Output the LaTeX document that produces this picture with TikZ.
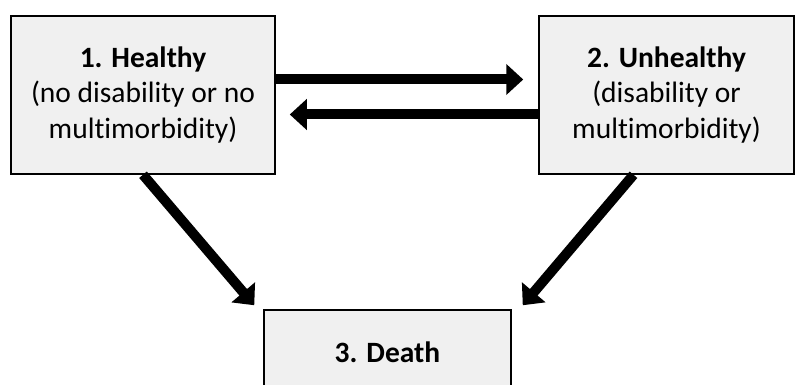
\documentclass[tikz,border=0pt]{standalone}
\usepackage{fontspec}
\setmainfont{Carlito}[Ligatures=NoCommon]
\usepackage{tikz}
\usetikzlibrary{arrows.meta}

\begin{document}
\begin{tikzpicture}[x=1pt,y=-1pt,
    state/.style={draw=black,line width=1.5pt,fill={rgb,255:red,240;green,240;blue,240},
      align=center,inner sep=0pt,font=\fontsize{29.5}{35.5}\selectfont}]
    \useasboundingbox (0,0) rectangle (795,385);

    \node[state,minimum width=264pt,minimum height=158pt] (1) at (143,95)
      {\textbf{1. Healthy}\\(no disability or no\\multimorbidity)};
    \node[state,minimum width=255pt,minimum height=158pt] (2) at (666.5,95)
      {\textbf{2. Unhealthy}\\(disability or\\multimorbidity)};
    \node[state,minimum width=247pt,minimum height=84pt] (3) at (387.5,352)
      {\textbf{3. Death}};

    \path[line width=10pt,-{Triangle[length=17pt,width=30pt]}]
    ([yshift=15.5pt]1.east) [black] edge [shorten >=15pt] ([yshift=15.5pt]2.west)
    ([yshift=-19.5pt]2.west) [black] edge [shorten >=14pt] ([yshift=-19.5pt]1.east)
    (1.south) [black] edge ([xshift=-9pt,yshift=4pt]3.north west)
    ([xshift=-33pt]2.south) [black] edge ([xshift=11pt,yshift=4pt]3.north east);
  \end{tikzpicture}
\end{document}
